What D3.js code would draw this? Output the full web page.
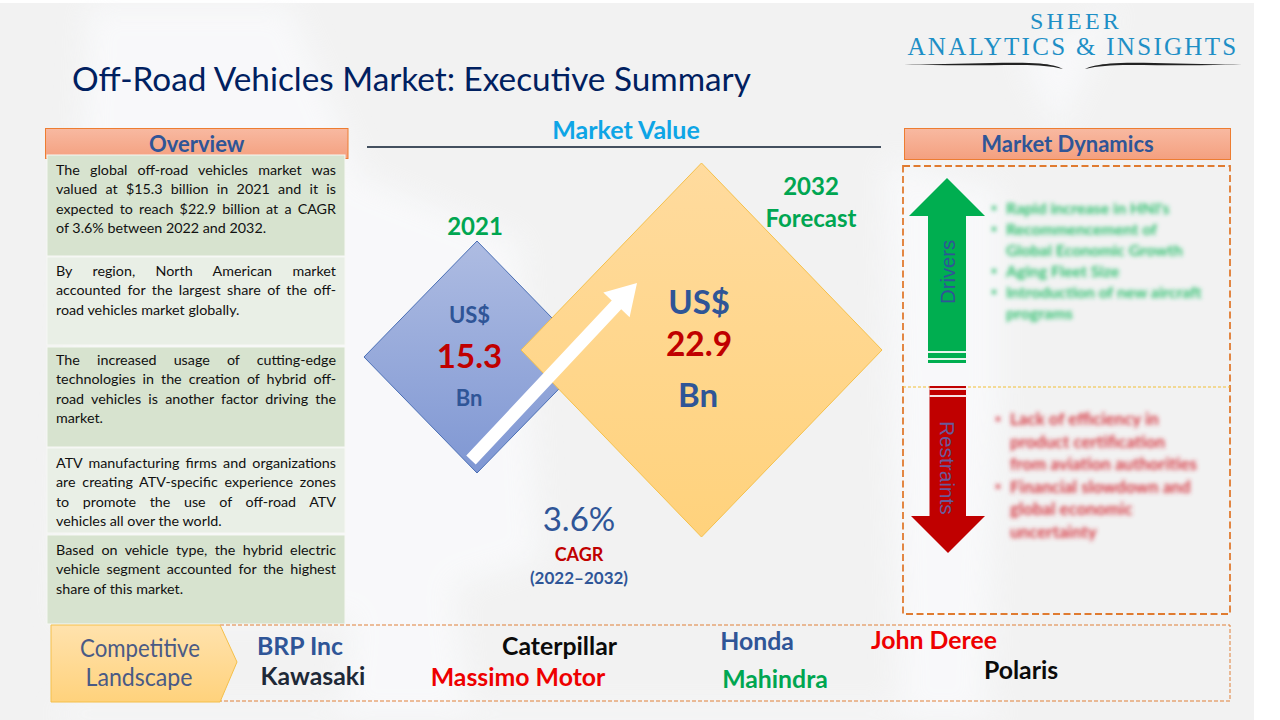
<!DOCTYPE html>
<html>
<head>
<meta charset="utf-8">
<script src="https://cdn.jsdelivr.net/npm/d3@7"></script>
<style>
html, body { margin: 0; padding: 0; background: #fff; }
svg { display: block; }
text { font-family: Lato, "Open Sans", sans-serif; }
</style>
</head>
<body>
<div id="chart"></div>
<script>
var pageTitle = "Off-Road Vehicles Market: Executive Summary";
var marketYears = ["2021", "2032"];
var marketValues = [15.3, 22.9];
var cagrValue = "3.6%";
var cagrPeriod = "(2022–2032)";

var overviewText = [
  ["The global off-road vehicles market was", "valued at $15.3 billion in 2021 and it is", "expected to reach $22.9 billion at a CAGR", "of 3.6% between 2022 and 2032."],
  ["By region, North American market", "accounted for the largest share of the off-", "road vehicles market globally."],
  ["The increased usage of cutting-edge", "technologies in the creation of hybrid off-", "road vehicles is another factor driving the", "market."],
  ["ATV manufacturing firms and organizations", "are creating ATV-specific experience zones", "to promote the use of off-road ATV", "vehicles all over the world."],
  ["Based on vehicle type, the hybrid electric", "vehicle segment accounted for the highest", "share of this market."]
];
var overviewTops = [155, 257, 347, 448, 535];
var overviewBottoms = [256, 345, 447, 533, 624];
var overviewBaselines = [175, 276, 365, 468, 555];

var driverLines = ["Rapid increase in HNI's", "Recommencement of", "Global Economic Growth", "Aging Fleet Size", "Introduction of new aircraft", "programs"];
var driverBullets = [true, true, false, true, true, false];
var restraintLines = ["Lack of efficiency in", "product certification", "from aviation authorities", "Financial slowdown and", "global economic", "uncertainty"];
var restraintBullets = [true, false, false, true, false, false];

var companyNames = ["BRP Inc", "Kawasaki", "Caterpillar", "Massimo Motor", "Honda", "Mahindra", "John Deree", "Polaris"];
var companyColors = ["#2f5597", "#1f2937", "#0b0b0b", "#ee0000", "#2f5597", "#00a651", "#ee0000", "#0b0b0b"];
var companyX = [300, 313, 559.5, 518, 757, 775, 934, 1021];
var companyY = [647, 677, 647, 678, 642, 680, 641, 671];

var blue = "#2f5597", green = "#00a651", darkRed = "#c00000";

var svg = d3.select("#chart").append("svg").attr("width", 1280).attr("height", 720);
var defs = svg.append("defs");

function addGradient(id, top, bottom) {
  var g = defs.append("linearGradient").attr("id", id).attr("x1", 0).attr("y1", 0).attr("x2", 0).attr("y2", 1);
  g.append("stop").attr("offset", "0%").attr("stop-color", top);
  g.append("stop").attr("offset", "100%").attr("stop-color", bottom);
}
addGradient("headGrad", "#f8b9a1", "#f4a07f");
addGradient("blueGrad", "#aebce2", "#7f97d3");
addGradient("orangeGrad", "#ffdb9e", "#ffd27c");
addGradient("landGrad", "#ffe2ad", "#ffd27c");

defs.append("filter").attr("id", "smoke").attr("x", "-20%").attr("y", "-20%").attr("width", "140%").attr("height", "140%")
  .append("feGaussianBlur").attr("stdDeviation", 14);
defs.append("filter").attr("id", "blurText").attr("x", "-10%").attr("y", "-30%").attr("width", "120%").attr("height", "160%")
  .append("feGaussianBlur").attr("stdDeviation", 2.1);

// slide background with the light smoke shapes
svg.append("rect").attr("x", 0).attr("y", 3).attr("width", 1254).attr("height", 717).attr("fill", "#f2f2f2");
var smoke = svg.append("g").attr("fill", "#fafbfd").attr("opacity", 0.75).attr("filter", "url(#smoke)");
var smokeShapes = [
  "M88,5 L290,5 L360,170 L345,620 L60,620 Z",
  "M345,170 L520,240 L540,560 L345,620 Z",
  "M350,620 L450,540 L470,720 L340,720 Z",
  "M885,160 L1000,190 L1000,400 L985,720 L900,720 Z",
  "M1020,60 L1120,5 L1060,130 Z",
  "M60,708 L1000,708 L1000,720 L60,720 Z"
];
smoke.selectAll("path").data(smokeShapes).enter().append("path").attr("d", function(d) { return d; });

svg.append("text").attr("x", 72).attr("y", 91).attr("font-size", 33.3).attr("fill", "#002060").text(pageTitle);

// logo
svg.append("text").attr("x", 1076).attr("y", 29).attr("text-anchor", "middle").attr("font-size", 24)
  .style("font-family", "'Liberation Serif', serif").style("letter-spacing", "3.2px").attr("fill", "#1e8fc6").text("SHEER");
svg.append("text").attr("x", 1073).attr("y", 55).attr("text-anchor", "middle").attr("font-size", 25)
  .style("font-family", "'Liberation Serif', serif").style("letter-spacing", "2.3px").attr("fill", "#1e8fc6").text("ANALYTICS & INSIGHTS");
var swash = svg.append("g").attr("fill", "#222");
swash.append("path").attr("d", "M904,64 C950,65 1010,61 1040,63.5 C1050,64.5 1058,66 1063,69 C1050,66 1040,65 1020,65 C985,65 940,66 904,64 Z");
swash.append("path").attr("d", "M1242,64 C1195,65 1135,61 1110,63.5 C1100,64.5 1090,66 1085,69 C1098,66 1110,65 1130,65 C1165,65 1205,66 1242,64 Z");

// overview column
function header(x, w, y, h, label) {
  svg.append("rect").attr("x", x).attr("y", y).attr("width", w).attr("height", h)
    .attr("fill", "url(#headGrad)").attr("stroke", "#ed7d31").attr("stroke-width", 1);
  svg.append("text").attr("x", x + w / 2).attr("y", y + 23).attr("text-anchor", "middle")
    .attr("font-size", 22).attr("font-weight", 700).attr("fill", blue).text(label);
}
header(45.5, 302.5, 128.5, 30, "Overview");
header(904.5, 326, 128.5, 31, "Market Dynamics");

var textLeft = 56, textRight = 336, lineStep = 19.3;
overviewText.forEach(function(lines, i) {
  svg.append("rect").attr("x", 47).attr("y", overviewTops[i]).attr("width", 298)
    .attr("height", overviewBottoms[i] - overviewTops[i])
    .attr("fill", i % 2 == 0 ? "#d7e3cf" : "#e9efe6")
    .attr("stroke", "#f6f7f4").attr("stroke-width", 1);
  lines.forEach(function(line, j) {
    var t = svg.append("text").attr("x", textLeft).attr("y", overviewBaselines[i] + j * lineStep)
      .attr("font-size", 14.3).attr("fill", "#111").text(line);
    // justify every line but the last one
    if (j < lines.length - 1) {
      var gaps = line.split(" ").length - 1;
      var extra = (textRight - textLeft - t.node().getComputedTextLength()) / gaps;
      t.style("word-spacing", extra + "px");
    }
  });
});

// market value
svg.append("text").attr("x", 626).attr("y", 139).attr("text-anchor", "middle").attr("font-size", 25)
  .attr("font-weight", 700).attr("fill", "#0ea5e6").text("Market Value");
svg.append("line").attr("x1", 367).attr("x2", 881).attr("y1", 147).attr("y2", 147)
  .attr("stroke", "#44505f").attr("stroke-width", 2);

var sizeScale = d3.scaleLinear().domain(marketValues).range([113, 180.5]);
var diamondCx = [477, 701.5], diamondCy = [357, 350];
var diamondFill = ["url(#blueGrad)", "url(#orangeGrad)"];
var diamondStroke = ["#4a6fb5", "#f5c04a"];
var diamond = d3.line().x(function(d) { return d[0]; }).y(function(d) { return d[1]; }).curve(d3.curveLinearClosed);

svg.selectAll(".diamond").data(marketValues).enter().append("path")
  .attr("class", "diamond")
  .attr("d", function(d, i) {
    var r = sizeScale(d), ry = i == 0 ? 116 : 187;
    return diamond([[diamondCx[i], diamondCy[i] - ry], [diamondCx[i] + r, diamondCy[i]], [diamondCx[i], diamondCy[i] + ry], [diamondCx[i] - r, diamondCy[i]]]);
  })
  .attr("fill", function(d, i) { return diamondFill[i]; })
  .attr("stroke", function(d, i) { return diamondStroke[i]; });

// growth arrow between the two diamonds
var ax = 471, ay = 460, bx = 637, by = 283;
var len = Math.hypot(bx - ax, by - ay), ux = (bx - ax) / len, uy = (by - ay) / len, nx = -uy, ny = ux;
var sw = 6.5, hw = 18, hl = 30;
function pt(along, off) { return [ax + ux * along + nx * off, ay + uy * along + ny * off]; }
svg.append("path").attr("fill", "#fff").attr("d", diamond([
  pt(0, -sw), pt(len - hl, -sw), pt(len - hl, -hw), pt(len, 0), pt(len - hl, hw), pt(len - hl, sw), pt(0, sw)
]));

function label(x, y, size, weight, fill, str) {
  return svg.append("text").attr("x", x).attr("y", y).attr("text-anchor", "middle")
    .attr("font-size", size).attr("font-weight", weight).attr("fill", fill).text(str);
}
label(475, 235, 24, 700, green, marketYears[0]);
label(811, 195, 24, 700, green, marketYears[1]);
label(811, 227, 24, 700, green, "Forecast");
label(469.5, 323, 22, 700, blue, "US$");
label(469.5, 368, 33, 700, darkRed, marketValues[0].toFixed(1));
label(469, 406, 22, 700, blue, "Bn");
label(699, 314, 33, 700, blue, "US$");
label(699, 356, 33.5, 700, darkRed, marketValues[1].toFixed(1));
label(698, 407, 33, 700, blue, "Bn");
label(579, 531, 33, 400, blue, cagrValue);
label(579, 561, 18, 700, darkRed, "CAGR");
label(579, 584, 17, 700, blue, cagrPeriod);

// market dynamics
svg.append("rect").attr("x", 903).attr("y", 166).attr("width", 327).attr("height", 448)
  .attr("fill", "none").attr("stroke", "#e07b30").attr("stroke-width", 1.8).attr("stroke-dasharray", "7 3.5");
svg.append("line").attr("x1", 903).attr("x2", 1230).attr("y1", 387).attr("y2", 387)
  .attr("stroke", "#f2c037").attr("stroke-width", 1).attr("stroke-dasharray", "3 2");

svg.append("path").attr("fill", "#00ae50").attr("d", "M947,178 L985,216 L966,216 L966,363 L928,363 L928,216 L909,216 Z");
svg.append("rect").attr("x", 928).attr("y", 351).attr("width", 38).attr("height", 2).attr("fill", "#e8f5ec");
svg.append("rect").attr("x", 928).attr("y", 358).attr("width", 38).attr("height", 2).attr("fill", "#e8f5ec");
svg.append("path").attr("fill", "#c00000").attr("d", "M929.5,386 L966,386 L966,516 L985,516 L948,553 L911,516 L929.5,516 Z");
svg.append("rect").attr("x", 929.5).attr("y", 388).attr("width", 37).attr("height", 2).attr("fill", "#f6e3e3");
svg.append("rect").attr("x", 929.5).attr("y", 395).attr("width", 37).attr("height", 2).attr("fill", "#f6e3e3");

svg.append("text").attr("transform", "translate(955,304) rotate(-90)").attr("font-size", 20.3)
  .style("font-family", "'Liberation Sans', sans-serif").attr("fill", "#2f5597").text("Drivers");
svg.append("text").attr("transform", "translate(940,421) rotate(90)").attr("font-size", 20.8)
  .style("font-family", "'Liberation Sans', sans-serif").attr("fill", "#6a5a9a").text("Restraints");

function blurredList(lines, bullets, x, y0, step, color, size) {
  var g = svg.append("g").attr("filter", "url(#blurText)").attr("fill", color);
  lines.forEach(function(line, i) {
    if (bullets[i]) {
      g.append("circle").attr("cx", x - 12).attr("cy", y0 + i * step - 6).attr("r", 2.2);
    }
    g.append("text").attr("x", x).attr("y", y0 + i * step).attr("font-size", size).attr("font-weight", 700).text(line);
  });
}
blurredList(driverLines, driverBullets, 1006, 214, 21, "#2fc06f", 16);
blurredList(restraintLines, restraintBullets, 1010, 425, 22.5, "#d63a44", 17);

// competitive landscape
svg.append("rect").attr("x", 220).attr("y", 625).attr("width", 1010).attr("height", 76)
  .attr("fill", "none").attr("stroke", "#e08038").attr("stroke-width", 1).attr("stroke-dasharray", "4 2");
svg.append("path").attr("d", "M51,625 L220,625 L237,662 L220,702 L51,702 Z")
  .attr("fill", "url(#landGrad)").attr("stroke", "#f5c04a").attr("stroke-width", 1);
label(140, 657, 25, 400, "#4a5a85", "Competitive").attr("textLength", 120).attr("lengthAdjust", "spacingAndGlyphs");
label(139, 686, 25, 400, "#4a5a85", "Landscape").attr("textLength", 107).attr("lengthAdjust", "spacingAndGlyphs");

svg.selectAll(".company").data(companyNames).enter().append("text")
  .attr("class", "company")
  .attr("x", function(d, i) { return companyX[i]; })
  .attr("y", function(d, i) { return companyY[i] + 8; })
  .attr("text-anchor", "middle")
  .attr("font-size", 24.8).attr("font-weight", 700)
  .attr("fill", function(d, i) { return companyColors[i]; })
  .text(function(d) { return d; });
</script>
</body>
</html>
